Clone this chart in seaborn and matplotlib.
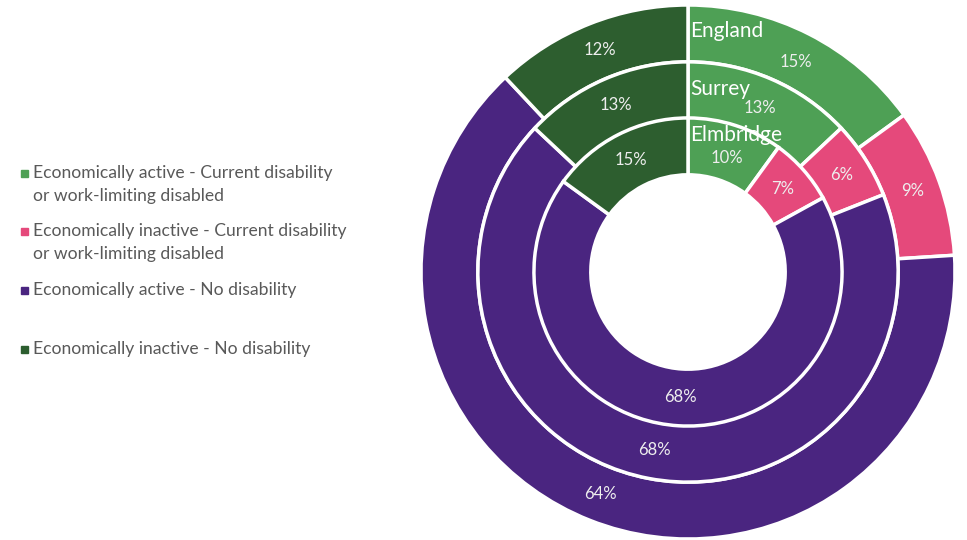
import matplotlib
matplotlib.use("Agg")
import matplotlib.pyplot as plt
import seaborn as sns

sns.set_theme(style="white")
plt.rcParams["font.family"] = ["Lato", "DejaVu Sans"]

# Shares by area (percent), clockwise from 12 o'clock
categories = [
    "Economically active - Current disability\nor work-limiting disabled",
    "Economically inactive - Current disability\nor work-limiting disabled",
    "Economically active - No disability",
    "Economically inactive - No disability",
]
areas = ["England", "Surrey", "Elmbridge"]  # outer -> inner ring
england = [15, 9, 64, 12]
surrey = [13, 6, 68, 13]
elmbridge = [10, 7, 68, 15]

colors = ["#4ea055", "#e5497b", "#4a2580", "#2d5e2f"]
ring_values = [england, surrey, elmbridge]

W, H = 967, 540
fig = plt.figure(figsize=(W / 100, H / 100), dpi=100)

# Donut axes: centre (688, 272) px, outer radius 267 px
cx, cy, R = 688, 272, 267
ax = fig.add_axes([(cx - R) / W, (H - cy - R) / H, 2 * R / W, 2 * R / H])
ax.set_xlim(-1, 1)
ax.set_ylim(-1, 1)
ax.set_aspect("equal")
ax.axis("off")

outer_radii = [1.0, 0.787, 0.577]
name_drop = [0.06, 0.065, 0.028]
width = 0.213

for i, (vals, r, name, drop) in enumerate(zip(ring_values, outer_radii, areas, name_drop)):
    _, _, autotexts = ax.pie(
        vals,
        radius=r,
        colors=colors,
        startangle=90,
        counterclock=False,
        autopct=lambda p: f"{p:.0f}%",
        pctdistance=(r - width / 2) / r,
        wedgeprops=dict(width=width, edgecolor="white", linewidth=2.5),
        textprops=dict(color="#eeeeee", fontsize=12),
    )
    # area name just right of the 12 o'clock seam
    ax.text(0.008, r - drop, name, ha="left", va="top",
            color="white", fontsize=15)
    # keep the first percentage clear of the area name above it
    t = autotexts[0]
    x, y = t.get_position()
    t.set_position((x, y - (0.02 if i == 2 else 0.01)))

ax.set_xlim(-1, 1)
ax.set_ylim(-1, 1)

# Legend: square markers with grey text in equal slots
tops = [173, 231, 290, 349]
for lab, col, ty in zip(categories, colors, tops):
    fig.text(33 / W, 1 - (ty - 8) / H, lab, ha="left", va="top",
             color="#595959", fontsize=12.6, linespacing=1.5)
    fig.patches.append(plt.Rectangle((21 / W, 1 - (ty + 4) / H), 7 / W, 7 / H,
                                     transform=fig.transFigure, color=col,
                                     figure=fig))

fig.savefig("out.png", dpi=100)
